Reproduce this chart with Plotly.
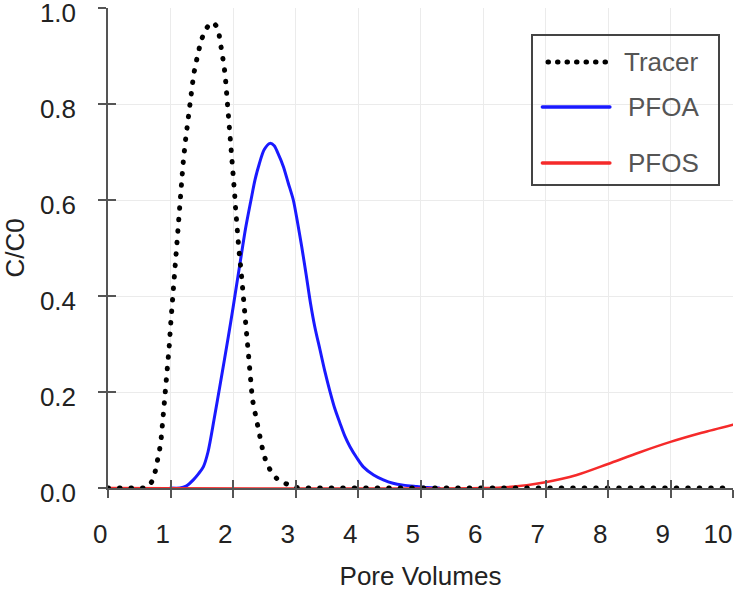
import plotly.graph_objects as go

# ---------------- data ----------------
series_names = ["Tracer", "PFOA", "PFOS"]

tracer_pv = [0, 0.3, 0.6, 0.65, 0.70, 0.757, 0.795, 0.827, 0.853, 0.870, 0.887, 0.902,
             0.917, 0.949, 0.979, 1.003, 1.029, 1.061, 1.099, 1.13, 1.155, 1.184, 1.2,
             1.237, 1.275, 1.317, 1.344, 1.371, 1.408, 1.445, 1.488, 1.557, 1.62, 1.685,
             1.73, 1.771, 1.803, 1.835, 1.856, 1.877, 1.893, 1.915, 1.931, 1.947, 1.963,
             1.975, 1.989, 2.0, 2.011, 2.025, 2.040, 2.055, 2.091, 2.128, 2.16, 2.187,
             2.21, 2.245, 2.277, 2.31, 2.34, 2.37, 2.40, 2.437, 2.48, 2.533, 2.613,
             2.731, 2.9, 3.0, 3.2, 10]
tracer_cc0 = [0, 0, 0, 0.003, 0.013, 0.035, 0.058, 0.081, 0.106, 0.129, 0.152, 0.175,
              0.199, 0.247, 0.294, 0.342, 0.389, 0.437, 0.483, 0.54, 0.60, 0.65, 0.674,
              0.721, 0.768, 0.815, 0.839, 0.862, 0.886, 0.908, 0.932, 0.954, 0.966, 0.970,
              0.963, 0.950, 0.926, 0.904, 0.880, 0.857, 0.832, 0.810, 0.786, 0.762, 0.739,
              0.714, 0.690, 0.667, 0.643, 0.615, 0.585, 0.549, 0.501, 0.454, 0.406, 0.358,
              0.311, 0.264, 0.217, 0.185, 0.165, 0.146, 0.123, 0.099, 0.076, 0.053, 0.033,
              0.015, 0.005, 0.001, 0, 0]

pfoa_pv = [1.0, 1.15, 1.25, 1.365, 1.45, 1.525, 1.60, 1.696, 1.80, 1.925, 2.0, 2.112,
           2.20, 2.288, 2.352, 2.42, 2.50, 2.592, 2.66, 2.72, 2.805, 2.885, 2.965, 3.03,
           3.099, 3.17, 3.24, 3.31, 3.392, 3.47, 3.552, 3.63, 3.712, 3.79, 3.872, 3.98,
           4.085, 4.25, 4.405, 4.56, 4.725, 4.94, 5.1, 5.3]
pfoa_cc0 = [0, 0, 0.004, 0.017, 0.03, 0.044, 0.075, 0.142, 0.22, 0.315, 0.375, 0.468,
            0.54, 0.60, 0.642, 0.675, 0.705, 0.718, 0.713, 0.697, 0.67, 0.635, 0.60, 0.555,
            0.503, 0.445, 0.385, 0.335, 0.288, 0.243, 0.201, 0.165, 0.135, 0.108, 0.086, 0.063,
            0.044, 0.027, 0.017, 0.010, 0.006, 0.003, 0.001, 0]

pfos_pv = [0, 6.0, 6.5, 7.0, 7.5, 8.0, 8.5, 9.0, 9.5, 10.0]
pfos_cc0 = [0, 0, 0.003, 0.012, 0.027, 0.050, 0.074, 0.096, 0.115, 0.132]

x_ticks = list(range(0, 11))
x_tick_labels = [str(v) for v in x_ticks]
y_ticks = [0.0, 0.2, 0.4, 0.6, 0.8, 1.0]
y_tick_labels = ["0.0", "0.2", "0.4", "0.6", "0.8", "1.0"]

x_title = "Pore Volumes"
y_title = "C/C0"

# ---------------- styles ----------------
FONT = "Liberation Sans, Arial, sans-serif"
TXT = "#222222"
AXIS = "#555555"
GRID = "#ebebeb"
colors = {"Tracer": "#000000", "PFOA": "#1a1aff", "PFOS": "#f52a2a"}
TRACER_DASH = "0.5px,11px"

fig = go.Figure()

fig.add_trace(go.Scatter(x=pfoa_pv, y=pfoa_cc0, mode="lines", name="PFOA",
                         line=dict(color=colors["PFOA"], width=3, shape="spline", smoothing=0.8),
                         showlegend=False))
fig.add_trace(go.Scatter(x=pfos_pv, y=pfos_cc0, mode="lines", name="PFOS",
                         line=dict(color=colors["PFOS"], width=2.5, shape="spline", smoothing=0.8),
                         showlegend=False))
fig.add_trace(go.Scatter(x=tracer_pv, y=tracer_cc0, mode="lines", name="Tracer",
                         line=dict(color=colors["Tracer"], width=5, dash=TRACER_DASH),
                         showlegend=False))
# empty trace that only makes the overlay axes (inner tick halves) render
fig.add_trace(go.Scatter(x=[], y=[], xaxis="x2", yaxis="y2", mode="lines",
                         showlegend=False, hoverinfo="skip"))

common_axis = dict(showline=True, linecolor=AXIS, linewidth=1.5, ticks="outside",
                   ticklen=8, tickwidth=1.5, tickcolor=AXIS, showgrid=True,
                   gridcolor=GRID, gridwidth=1, zeroline=False, automargin=False,
                   ticklabeloverflow="allow",
                   tickfont=dict(family=FONT, size=26, color=TXT))

fig.update_layout(
    template="none",
    width=740, height=592,
    margin=dict(l=108, r=7, t=8, b=104, autoexpand=False),
    paper_bgcolor="white", plot_bgcolor="white",
    showlegend=False,
    xaxis=dict(range=[0, 10], tickvals=x_ticks, ticktext=x_tick_labels,
               ticklabelposition="outside left", ticklabelstandoff=22, ticklabelshift=1,
               title=dict(text=x_title, font=dict(family=FONT, size=26, color=TXT), standoff=19),
               **common_axis),
    yaxis=dict(range=[0, 1], tickvals=y_ticks, ticktext=y_tick_labels,
               ticklabelstandoff=17, ticklabelshift=5,
               title=dict(text=y_title, font=dict(family=FONT, size=26, color=TXT), standoff=14),
               **common_axis),
    xaxis2=dict(overlaying="x", anchor="y2", side="bottom", range=[0, 10], tickvals=x_ticks,
                ticks="inside", ticklen=8, tickwidth=1.5, tickcolor=AXIS, automargin=False,
                showticklabels=False, showgrid=False, showline=False, zeroline=False),
    yaxis2=dict(overlaying="y", anchor="x2", side="left", range=[0, 1], tickvals=y_ticks,
                ticks="inside", ticklen=8, tickwidth=1.5, tickcolor=AXIS, automargin=False,
                showticklabels=False, showgrid=False, showline=False, zeroline=False),
)

# ---------------- hand-made legend (box, samples, labels) ----------------
box = dict(x0=0.6784, x1=0.9776, y0=0.6313, y1=0.9438)
fig.add_shape(type="rect", xref="paper", yref="paper", **box,
              line=dict(color="#444444", width=2), fillcolor="rgba(0,0,0,0)", layer="above")
sample_x1 = 0.803
rows_y = {"Tracer": 0.8875, "PFOA": 0.794, "PFOS": 0.677}
label_x = {"Tracer": 0.8224, "PFOA": 0.8290, "PFOS": 0.8290}
for name in series_names:
    if name == "Tracer":
        ln = dict(color=colors[name], width=5, dash="0.5px,9px")
        x0 = 0.704
    else:
        ln = dict(color=colors[name], width=3.5)
        x0 = 0.695
    fig.add_shape(type="line", xref="paper", yref="paper", x0=x0, x1=sample_x1,
                  y0=rows_y[name], y1=rows_y[name], line=ln, layer="above")
    fig.add_annotation(xref="paper", yref="paper", x=label_x[name], y=rows_y[name],
                       xanchor="left", yanchor="middle", showarrow=False, text=name,
                       font=dict(family=FONT, size=26, color="#555555"))

post = """
document.body.style.margin='0';
var s=document.createElement('style');
s.textContent='.js-line{stroke-linecap:round !important}.shapelayer path{stroke-linecap:round}';
document.head.appendChild(s);
"""
fig.write_html("out.html", post_script=post, config={"displayModeBar": False})
